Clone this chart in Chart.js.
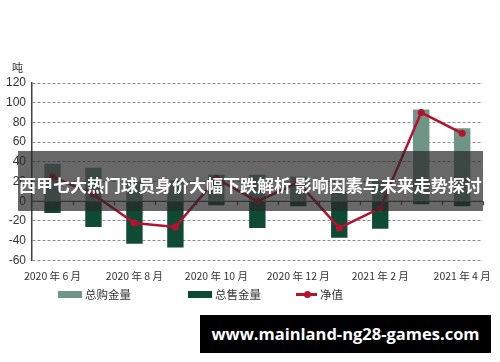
<!DOCTYPE html>
<html>
<head>
<meta charset="utf-8">
<script src="https://cdn.jsdelivr.net/npm/chart.js@4.4.1/dist/chart.umd.min.js"></script>
<style>
  html, body { margin: 0; padding: 0; background: #fff; }
  #wrap { position: relative; width: 500px; height: 362px; overflow: hidden; }
  #chart { position: absolute; left: 0; top: 0; }
  #unit { position: absolute; left: 12px; top: 59px; font: 11px "Noto Sans CJK SC", sans-serif; color: #333; }
  #band {
    position: absolute; left: 18px; top: 151px; width: 465px; height: 60px;
    background: rgba(40, 40, 40, 0.7);
  }
  #headline {
    position: absolute; left: 19px; top: 174px; white-space: nowrap;
    color: #fff; font: bold 17px "Noto Sans CJK SC", sans-serif; line-height: 22px;
  }
  #mark {
    position: absolute; left: 200px; top: 315px; width: 291px; height: 38px;
    background: #000; color: #fff; text-align: center;
    font: bold 16.5px "Open Sans", "DejaVu Sans", sans-serif; line-height: 38px;
  }
  .lg { position: absolute; top: 286px; height: 16px; line-height: 16px;
        font: 11.5px "Noto Sans CJK SC", sans-serif; color: #333; white-space: nowrap; }
  .sw { position: absolute; top: 5px; width: 24px; height: 7px; }
  .ln { position: absolute; top: 7px; width: 21px; height: 2.5px; }
  .dt { position: absolute; top: 5px; left: 8px; width: 7px; height: 7px; border-radius: 50%; }
</style>
</head>
<body>
<div id="wrap">
  <canvas id="chart" width="500" height="362"></canvas>
  <div id="unit">吨</div>
  <div id="legend"></div>
  <div id="band"></div>
  <div id="headline">西甲七大热门球员身价大幅下跌解析 影响因素与未来走势探讨</div>
  <div id="mark">www.mainland-ng28-games.com</div>
</div>
<script>
const months = ['2020 年 6 月', '2020 年 7 月', '2020 年 8 月', '2020 年 9 月', '2020 年 10 月', '2020 年 11 月',
                '2020 年 12 月', '2021 年 1 月', '2021 年 2 月', '2021 年 3 月', '2021 年 4 月'];
const buyAmount = [38, 34, 21, 21, 27, 27, 25, 10, 21, 93, 74];
const sellAmount = [-12, -26, -43, -47, -4, -27, -5, -37, -28, -3, -5];
const netValue = [25, 7, -22, -26, 23, 0, 19, -27, -7, 90, 69];
const yTicks = [-60, -40, -20, 0, 20, 40, 60, 80, 100, 120];
const seriesNames = ['总购金量', '总售金量', '净值'];
const seriesColors = ['#6f9586', '#0f4a34', '#b5122e'];

// zero axis line with small ticks between months
const zeroAxis = {
  id: 'zeroAxis',
  afterDatasetsDraw(chart) {
    const ctx = chart.ctx;
    const x = chart.scales.x, y = chart.scales.y;
    const y0 = y.getPixelForValue(0);
    ctx.save();
    ctx.strokeStyle = '#404040';
    ctx.lineWidth = 1.2;
    ctx.beginPath();
    ctx.moveTo(x.left, y0);
    ctx.lineTo(x.right, y0);
    const step = x.width / months.length;
    for (let i = 1; i <= months.length; i++) {
      const px = Math.round(x.left + i * step) + 0.5;
      ctx.moveTo(px, y0);
      ctx.lineTo(px, y0 + 4);
    }
    ctx.stroke();
    ctx.restore();
  }
};

const chart = new Chart(document.getElementById('chart'), {
  data: {
    labels: months,
    datasets: [
      {
        type: 'bar', label: seriesNames[0], data: buyAmount,
        backgroundColor: seriesColors[0], grouped: false, order: 2,
        categoryPercentage: 0.8, barPercentage: 0.5
      },
      {
        type: 'bar', label: seriesNames[1], data: sellAmount,
        backgroundColor: seriesColors[1], grouped: false, order: 2,
        categoryPercentage: 0.8, barPercentage: 0.5
      },
      {
        type: 'line', label: seriesNames[2], data: netValue,
        borderColor: seriesColors[2], backgroundColor: seriesColors[2],
        borderWidth: 2.5, pointRadius: 3.5, pointBackgroundColor: seriesColors[2],
        pointBorderWidth: 0, tension: 0, order: 1
      }
    ]
  },
  options: {
    responsive: false,
    animation: false,
    layout: { padding: { left: 4, right: 5, top: 83, bottom: 71 } },
    plugins: {
      legend: { display: false },
      tooltip: { enabled: false }
    },
    scales: {
      x: {
        grid: { display: false, drawTicks: false },
        border: { display: false },
        ticks: {
          autoSkip: false, maxRotation: 0, padding: 9, color: '#333',
          font: { size: 10.5, family: '"Noto Sans CJK SC", sans-serif' },
          callback: function (v, i) { return i % 2 === 0 ? months[i] : ''; }
        }
      },
      y: {
        min: -60, max: 120,
        afterBuildTicks: function (axis) { axis.ticks = yTicks.map(v => ({ value: v })); },
        grid: {
          color: '#8c8c8c', lineWidth: 1, drawTicks: true, tickLength: 4,
          tickColor: 'rgba(0,0,0,0)'
        },
        border: { display: true, color: '#404040', width: 1.5, dash: [3, 2] },
        ticks: {
          autoSkip: false, color: '#333', padding: 2,
          font: { size: 12, family: '"Liberation Sans", sans-serif' }
        }
      }
    }
  },
  plugins: [zeroAxis]
});

// legend (spacing as in the source picture)
const legendX = [58, 188, 296];
const legendEl = document.getElementById('legend');
seriesNames.forEach((name, i) => {
  const item = document.createElement('div');
  item.className = 'lg';
  item.style.left = legendX[i] + 'px';
  if (i < 2) {
    item.innerHTML = '<span class="sw" style="left:0;background:' + seriesColors[i] + '"></span>' +
      '<span style="margin-left:27px">' + name + '</span>';
  } else {
    item.innerHTML = '<span class="ln" style="left:0;background:' + seriesColors[i] + '"></span>' +
      '<span class="dt" style="background:' + seriesColors[i] + '"></span>' +
      '<span style="margin-left:24px">' + name + '</span>';
  }
  legendEl.appendChild(item);
});
</script>
</body>
</html>
